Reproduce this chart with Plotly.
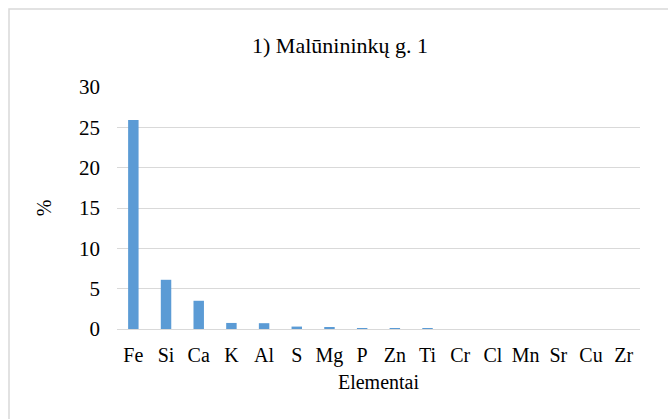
import plotly.graph_objects as go

# Element content, %
elements = ["Fe", "Si", "Ca", "K", "Al", "S", "Mg", "P", "Zn", "Ti", "Cr", "Cl", "Mn", "Sr", "Cu", "Zr"]
percent = [25.9, 6.1, 3.5, 0.75, 0.72, 0.3, 0.15, 0.07, 0.05, 0.04, 0, 0, 0, 0, 0, 0]

W, H = 668, 419
L, R, T, B = 117, 28, 87, 90
pw, ph = W - L - R, H - T - B

FAMILY = "Liberation Serif"
def f(size):
    return dict(family=FAMILY, size=size, color="#000000")

fig = go.Figure(go.Bar(x=elements, y=percent, marker=dict(color="#5b9bd5", line=dict(width=0))))

# light frame around the chart area
def px_x(v):
    return (v - L) / pw

def px_y(v):
    return (H - B - v) / ph

fig.add_shape(type="rect", xref="paper", yref="paper",
              x0=px_x(9), x1=px_x(700), y0=px_y(9), y1=px_y(450),
              line=dict(color="#d9d9d9", width=1.5), fillcolor="rgba(0,0,0,0)", layer="below")

fig.update_layout(
    width=W, height=H,
    margin=dict(l=L, r=R, t=T, b=B),
    paper_bgcolor="white", plot_bgcolor="white",
    font=f(20),
    bargap=0.68,
    showlegend=False,
    title=dict(text="1) Malūnininkų g. 1", x=340 / W, xanchor="center",
               y=1 - 45 / H, yanchor="middle", font=f(22)),
    xaxis=dict(title=dict(text="Elementai", standoff=8, font=f(20)), showgrid=False, showline=True,
               linecolor="#d9d9d9", linewidth=1, ticks="", tickfont=f(20), ticklabelstandoff=8),
    yaxis=dict(title=dict(text="%", standoff=22, font=f(20)), range=[0, 30], dtick=5, showgrid=True,
               gridcolor="#d9d9d9", gridwidth=1, zeroline=False, showline=False,
               ticks="", tickfont=f(21), ticklabelstandoff=16),
)

fig.write_html("out.html")
